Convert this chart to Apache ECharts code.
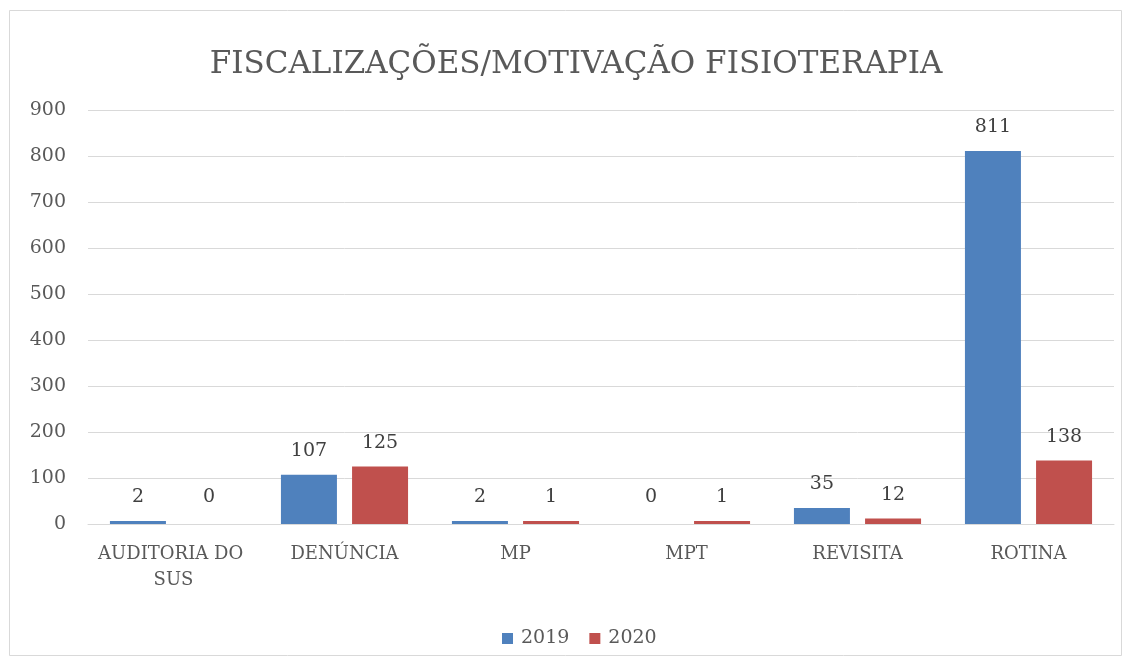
<!DOCTYPE html>
<html><head><meta charset="utf-8">
<script src="https://cdn.jsdelivr.net/npm/echarts@6/dist/echarts.min.js"></script>
<style>html,body{margin:0;padding:0;background:#fff}#c{width:1129px;height:666px}</style>
</head><body><div id="c"></div>
<script>
const categories = ['AUDITORIA DO SUS', 'DENÚNCIA', 'MP', 'MPT', 'REVISITA', 'ROTINA'];
const values2019 = [2, 107, 2, 0, 35, 811];
const values2020 = [0, 125, 1, 1, 12, 138];
const seriesNames = ['2019', '2020'];
const yTicks = {min: 0, max: 900, interval: 100};

const FONT = "'DejaVu Serif', serif";
const toItems = arr => arr.map(v => v === 0 ? {value: v, itemStyle: {color: 'rgba(0,0,0,0)'}} : v);
const labelCfg = {show: true, position: 'top', distance: 14, fontFamily: FONT, fontSize: 19, color: '#404040',
  formatter: p => p.value};
const chart = echarts.init(document.getElementById('c'));
chart.setOption({
  backgroundColor: '#fff',
  textStyle: {fontFamily: FONT},
  title: {
    text: 'FISCALIZAÇÕES/MOTIVAÇÃO FISIOTERAPIA',
    left: 571, textAlign: 'center', top: 44,
    textStyle: {fontFamily: FONT, fontSize: 31, fontWeight: 'normal', color: '#595959'}
  },
  graphic: [{
    type: 'rect', silent: true,
    shape: {x: 9.5, y: 10.5, width: 1112, height: 645},
    style: {fill: 'none', stroke: '#d9d9d9', lineWidth: 1}
  }],
  legend: {
    data: seriesNames, top: 624, left: 497,
    itemWidth: 11, itemHeight: 11, itemGap: 20,
    icon: 'rect',
    textStyle: {fontFamily: FONT, fontSize: 19, color: '#595959', padding: [0, 0, 0, 3]}
  },
  grid: {left: 88, right: 15, top: 110, bottom: 142, containLabel: false},
  xAxis: {
    type: 'category', data: categories,
    axisLine: {lineStyle: {color: '#d9d9d9'}},
    axisTick: {show: false},
    axisLabel: {fontFamily: FONT, fontSize: 18, color: '#595959', margin: 17, lineHeight: 26,
      width: 165, overflow: 'break', interval: 0}
  },
  yAxis: {
    type: 'value', min: yTicks.min, max: yTicks.max, interval: yTicks.interval,
    axisLine: {show: false}, axisTick: {show: false},
    splitLine: {lineStyle: {color: '#d9d9d9'}},
    axisLabel: {fontFamily: FONT, fontSize: 19, color: '#595959', margin: 22}
  },
  series: [
    {name: seriesNames[0], type: 'bar', data: toItems(values2019), barWidth: 56, barGap: '27%',
     barMinHeight: 3, itemStyle: {color: '#4F81BD'}, label: labelCfg},
    {name: seriesNames[1], type: 'bar', data: toItems(values2020), barWidth: 56, barGap: '27%',
     barMinHeight: 3, itemStyle: {color: '#C0504D'}, label: labelCfg}
  ]
});
</script></body></html>
